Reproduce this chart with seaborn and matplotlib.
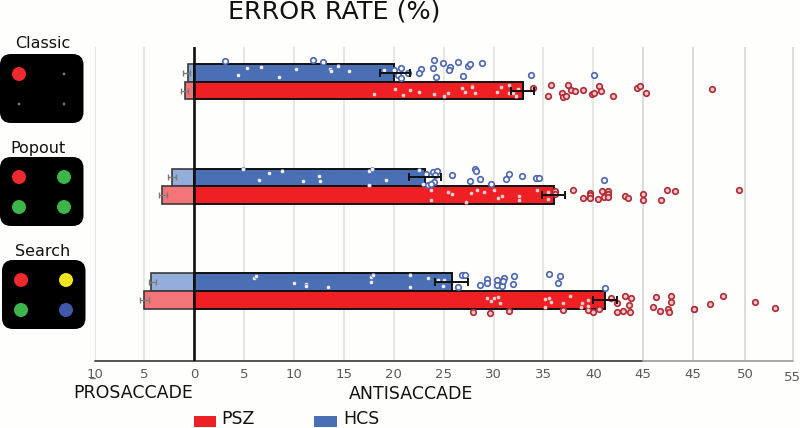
import numpy as np
import pandas as pd
import matplotlib
matplotlib.use("Agg")
import matplotlib.pyplot as plt
from matplotlib.patches import FancyBboxPatch, Circle, Rectangle
from matplotlib.lines import Line2D
from matplotlib.transforms import ScaledTranslation
import seaborn as sns

TASKS = ["Classic", "Popout", "Search"]
GROUPS = ["HCS", "PSZ"]
ANTI = {"HCS": [20.05, 23.15, 25.8], "PSZ": [32.95, 36.05, 41.15]}
PRO = {"HCS": [-0.65, -2.2, -4.35], "PSZ": [-0.95, -3.2, -5.0]}
ANTI_ERR_C = {"HCS": [20.15, 23.12, 25.78], "PSZ": [32.9, 36.05, 41.15]}
ANTI_ERR_H = {"HCS": [1.5, 1.62, 1.62], "PSZ": [1.2, 1.15, 1.17]}
PRO_ERR_C = {"HCS": [-0.75, -2.2, -4.2], "PSZ": [-1.0, -3.15, -5.0]}
PRO_ERR_H = {"HCS": [0.33, 0.4, 0.38], "PSZ": [0.37, 0.43, 0.42]}

# Individual subjects: (error rate, vertical jitter from the row centre)
classic_hcs = [(3.12,-21),(11.95,-21.4),(12.92,-20),(5.28,-14),(6.68,-14.7),(4.38,-6.4),(8.45,-4.4),(10.22,-12.4),
 (13.62,-13),(13.72,-11),(14.42,-15.4),(15.48,-10.7),(18.98,-11.7),(20.05,-11.4),(20.75,-13.4),(20.38,-6.4),
 (20.72,-4),(21.45,-8.7),(22.72,-12.4),(22.48,-9),(23.92,-13.4),(24.05,-21.4),(24.25,-5),(24.95,-19),(25.65,-14.7),
 (25.55,-11.4),(26.42,-19.4),(26.98,-6),(27.48,-15.7),(27.65,-18),(28.82,-19),(33.72,-6.4),(40.05,-6.4)]
classic_psz = [(18.05,12),(20.15,7.6),(20.88,13.3),(21.58,8.6),(22.52,10),(24.02,12.6),(25.05,14),(25.45,11),(26.88,6),
 (27.18,10),(27.88,4),(27.88,5.3),(28.15,11.3),(30.38,10),(30.72,5.3),(31.52,3.3),(31.52,11),(31.98,11),(32.22,14.6),
 (32.42,7.6),(33.98,6.6),(35.75,3.6),(35.42,14.6),(37.45,3),(36.82,11.6),(36.98,15.3),(37.22,14.3),(37.78,8.3),
 (38.15,9),(38.98,8.3),(39.88,12.6),(40.08,11.6),(40.52,4.6),(40.72,9.3),(41.98,14),(44.42,6),(44.65,4.3),(45.25,11.3),(51.92,7)]
popout_hcs = [(4.85,-17),(7.52,-13.3),(8.82,-15.7),(6.52,-6),(10.85,-5.7),(12.55,-10.7),(12.58,-5),(17.52,-15.7),
 (17.85,-17.3),(17.55,-1),(19.22,-6.3),(22.55,-16),(23.25,-12.3),(23.88,-14.7),(24.28,-15.3),(24.15,-11),(22.95,-2),
 (23.42,-1.3),(23.98,-4.3),(23.72,-2.7),(25.88,-11.3),(27.68,-5),(28.18,-17.7),(28.22,-15.7),(28.65,-7),(29.75,-2.7),
 (31.22,-7),(31.55,-12.3),(32.88,-10.3),(34.22,-8.3),(34.55,-8.3),(41.05,-6.3)]
popout_psz = [(23.75,4),(23.75,14),(25.48,5.3),(25.88,7.7),(27.25,15.3),(27.75,6.3),(28.32,3.3),(29.05,5.7),(30.02,3.3),
 (30.82,9.7),(30.45,12),(32.58,9.7),(32.58,13.3),(34.35,4),(35.45,6),(35.48,12.3),(36.15,4.7),(36.15,7.3),(37.92,4),
 (38.98,11.3),(39.68,6.3),(39.68,8.3),(39.68,11.3),(40.45,12.3),(40.85,4.3),(41.05,10.7),(41.45,5),(41.45,7.3),(41.45,10.7),
 (43.22,9.3),(43.45,11.3),(44.98,7.7),(44.98,13.3),(46.75,14),(47.42,4),(48.18,4.7),(54.55,4)]
search_hcs = [(5.98,-12.7),(6.15,-15),(10.02,-8),(11.15,-6.7),(11.22,-5),(13.45,-3.7),(17.75,-14.3),(17.88,-16),(17.75,-8.7),
 (21.65,-15.7),(21.65,-3.7),(23.38,-12.7),(24.38,-11),(25.08,-10.7),(24.92,-5.3),(26.42,-4),(26.82,-16.3),(27.18,-16),
 (28.65,-6),(29.32,-12.3),(29.32,-8.3),(30.32,-11.3),(30.32,-6),(30.88,-5.3),(31.05,-12.7),(30.98,-10.3),(32.08,-15.3),
 (31.98,-7),(35.55,-17.3),(36.68,-15.3),(36.42,-7.7),(41.12,-3.3)]
search_psz = [(27.98,21.3),(29.68,21.7),(31.55,19.7),(29.38,6.7),(29.75,9.7),(30.08,7),(30.45,5.7),(30.65,12.3),(35.15,8),
 (35.18,16.3),(35.52,7),(35.72,10.7),(36.92,12.3),(36.92,18.7),(37.68,4.7),(38.82,12.3),(38.8,16),(39.48,9.3),(39.48,14.7),
 (39.48,19.3),(39.92,21.3),(40.55,17.7),(41.72,7.3),(42.35,12),(42.38,21),(42.95,20),(43.18,5),(43.62,14),(43.65,20.7),
 (43.78,6.7),(45.95,16.3),(46.25,6.3),(46.68,19.7),(47.52,18.3),(47.55,20.7),(47.75,4.7),(47.75,11),(50.12,18),(50.12,18.2),
 (51.72,13),(52.95,5.3),(56.25,10.7),(58.18,17.3)]
SUBJECTS = {("Classic","HCS"):classic_hcs,("Classic","PSZ"):classic_psz,("Popout","HCS"):popout_hcs,
            ("Popout","PSZ"):popout_psz,("Search","HCS"):search_hcs,("Search","PSZ"):search_psz}

TICK_POS = [-10,-5,0,5,10,15,20,25,30,35,40,45,50,55.2,60]
TICK_LAB = ["10","5","0","5","10","15","20","25","30","35","40","45","45","50","55"]

W, H = 800, 428
ROW_PX = 104.65
RED, BLUE = "#ee2024", "#4a6fb5"
LRED, LBLUE = "#f47579", "#94aedb"
BG = "#fefefc"

sns.set_theme(style="white")
plt.rcParams["font.family"] = ["DejaVu Sans"]
fig = plt.figure(figsize=(8, 4.28), dpi=100, facecolor=BG)
ax = fig.add_axes([94.5/W, 1-361/H, (795-94.5)/W, (361-47)/H], facecolor=BG)

rows = []
for g in GROUPS:
    for t, a, p in zip(TASKS, ANTI[g], PRO[g]):
        rows.append(dict(task=t, group=g, anti=a, pro=p))
df = pd.DataFrame(rows)

for v in TICK_POS:
    ax.axvline(v, color="#e6e6e2" if v < 45 else "#dcdcd8", lw=1.4, zorder=0)

sns.barplot(data=df, y="task", x="pro", hue="group", hue_order=GROUPS, order=TASKS,
            palette={"HCS": LBLUE, "PSZ": LRED}, width=0.338, gap=0, saturation=1,
            edgecolor="#3a3a3a", linewidth=1.2, legend=False, ax=ax, orient="h", zorder=2)
sns.barplot(data=df, y="task", x="anti", hue="group", hue_order=GROUPS, order=TASKS,
            palette={"HCS": BLUE, "PSZ": RED}, width=0.338, gap=0, saturation=1,
            edgecolor="#111111", linewidth=1.4, legend=False, ax=ax, orient="h", zorder=2)

pts = []
for (t, g), lst in SUBJECTS.items():
    i = TASKS.index(t)
    bar = ANTI[g][i]
    for v, j in lst:
        inside = v < bar and ((g == "HCS" and j > -17.5) or (g == "PSZ" and j < 17.5))
        pts.append(dict(x=v, y=i + j/ROW_PX, group=g, inside=inside))
pts = pd.DataFrame(pts)

for g, edge, face in [("HCS", "#4c66b2", "#fbfbfd"), ("PSZ", "#b02a36", "#f2c4c6")]:
    sub = pts[(pts.group == g) & ~pts.inside]
    sns.scatterplot(data=sub, x="x", y="y", s=16, color=face, edgecolor=edge, linewidth=1.2,
                    ax=ax, zorder=4, legend=False)
for g, edge, face in [("HCS", "#4c66b2", "#eef1fa"), ("PSZ", RED, "#f9d3d4")]:
    sub = pts[(pts.group == g) & pts.inside]
    sns.scatterplot(data=sub, x="x", y="y", s=9, color=face, edgecolor=edge, linewidth=0.4,
                    ax=ax, zorder=4, legend=False)

for k, g in enumerate(GROUPS):
    ys = np.arange(3) + (-0.085 if g == "HCS" else 0.085)
    ax.errorbar(ANTI_ERR_C[g], ys, xerr=ANTI_ERR_H[g], fmt="none", ecolor="#111111",
                elinewidth=1.4, capsize=2.6, capthick=1.4, zorder=5)
    ax.errorbar(PRO_ERR_C[g], ys, xerr=PRO_ERR_H[g], fmt="none", ecolor="#7a7a7a",
                elinewidth=1.0, capsize=2.2, capthick=1.0, zorder=5)

ax.axvline(0, color="#111111", lw=1.9, zorder=6)

ax.set_xlim(-10, (795-193.5)/9.99)
ax.set_ylim((361-81.7)/ROW_PX, (47-81.7)/ROW_PX)
ax.set_xticks(TICK_POS)
ax.set_xticklabels(TICK_LAB, color="#5a5a5a", fontsize=9.5)
ax.tick_params(axis="x", length=0, pad=5)
ax.set_yticks([])
ax.set_xlabel("")
ax.set_ylabel("")
sns.despine(ax=ax, left=True, bottom=True)
last = ax.get_xticklabels()[-1]
last.set_transform(last.get_transform() + ScaledTranslation(0, -2/72, fig.dpi_scale_trans))
ax.axhline(ax.get_ylim()[0], xmin=0, xmax=(45+10)/(70.2), color="#555555", lw=1.4, clip_on=False, zorder=3)
ax.axhline(ax.get_ylim()[0], xmin=(45+10)/70.2, xmax=(60+10)/70.2, color="#a8a8a8", lw=1.4, clip_on=False, zorder=3)


def fx(x): return x / W
def fy(y): return 1 - y / H

fig.add_artist(Line2D([fx(90), fx(95)], [fy(378), fy(378)], color="#777777", lw=1))

fig.text(fx(334), fy(12), "ERROR RATE (%)", ha="center", va="center", fontsize=18.3, color="#111111")
fig.text(fx(133), fy(393), "PROSACCADE", ha="center", va="center", fontsize=12.5, color="#111111")
fig.text(fx(411), fy(394), "ANTISACCADE", ha="center", va="center", fontsize=12.5, color="#111111")

# legend
for x0, c, lab, tx in [(193.5, RED, "PSZ", 221), (314, BLUE, "HCS", 343)]:
    fig.add_artist(Rectangle((fx(x0), fy(427)), 22.5/W, 11/H, transform=fig.transFigure, fc=c, ec="none"))
    fig.text(fx(tx), fy(424.5), lab, ha="left", va="baseline", fontsize=12.5, color="#111111")

# stimulus panels (aspect correct circles are drawn in pixel coordinates)
px = fig.add_axes([0, 0, 1, 1], facecolor="none", zorder=10)
px.set_xlim(0, W); px.set_ylim(H, 0); px.axis("off")
G, R, Y, B, S = "#3cb54a", "#ee2a2e", "#efe51e", "#3f58a8", "#777777"
panels = [("Classic", 43, 43, 0, 54, 0, [R, S, S, S]),
          ("Popout", 38, 148, 0, 157, 0, [R, G, G, G]),
          ("Search", 43, 251, 2, 260, 2, [R, Y, G, B])]
for name, tx, ty, x0, y0, dx, cols in panels:
    px.text(tx, ty, name, ha="center", va="center", fontsize=11.5, color="#111111")
    px.add_patch(FancyBboxPatch((x0+10, y0+10), 63.5, 49, boxstyle="round,pad=10,rounding_size=11",
                                fc="black", ec="none"))
    for (cx, cy), c in zip([(19, 20), (64, 20), (19, 50), (64, 50)], cols):
        r = 1.4 if c == S else 7
        px.add_patch(Circle((cx+dx, y0+cy), r, fc=c, ec="none"))

fig.savefig("out.png", dpi=100, facecolor=BG)
